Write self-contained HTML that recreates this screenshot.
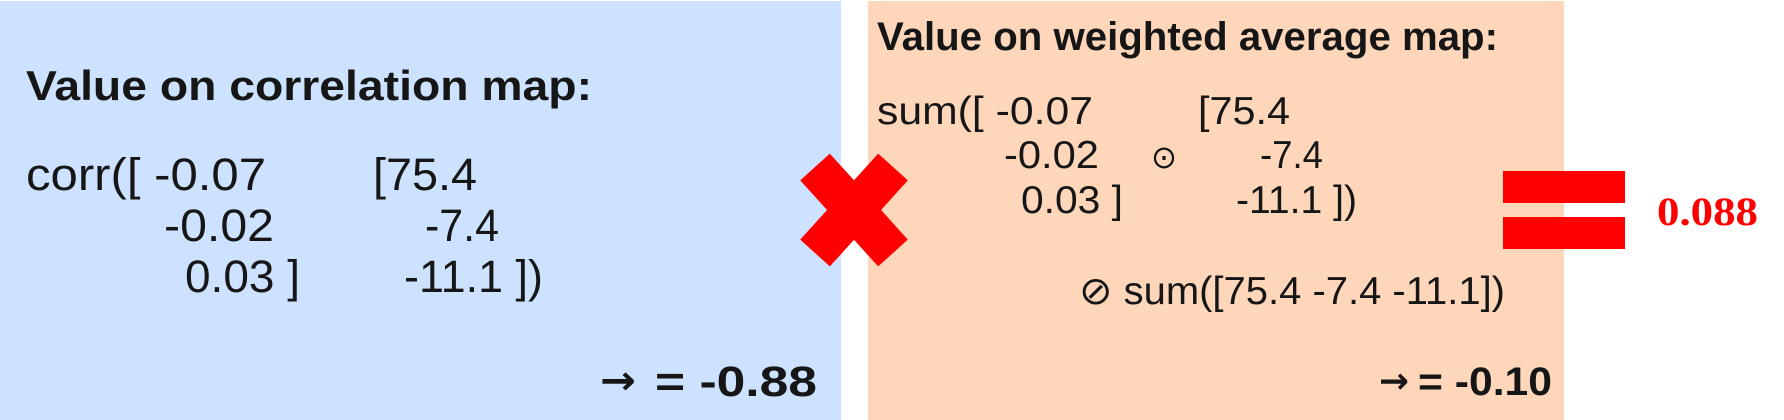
<!DOCTYPE html>
<html><head><meta charset="utf-8"><style>
html,body{margin:0;padding:0;background:#fff;}
svg{display:block;}
text{font-family:"Liberation Sans",sans-serif;fill:#161616;}
.b{font-weight:bold;}
.ar{font-family:"DejaVu Sans",sans-serif;font-weight:bold;}
</style></head><body>
<svg width="1784" height="420" viewBox="0 0 1784 420">
<rect x="0" y="1" width="841" height="419" fill="#cce2fe"/>
<rect x="868" y="1" width="696" height="419" fill="#fed7bb"/>
<g>
<text class="b" x="26" y="100" font-size="42" textLength="566" lengthAdjust="spacingAndGlyphs">Value on correlation map:</text>
<text x="26" y="190" font-size="45" textLength="240" lengthAdjust="spacingAndGlyphs">corr([ -0.07</text>
<text x="373" y="190" font-size="45" textLength="104" lengthAdjust="spacingAndGlyphs">[75.4</text>
<text x="164" y="241" font-size="45" textLength="110" lengthAdjust="spacingAndGlyphs">-0.02</text>
<text x="425" y="241" font-size="45" textLength="74" lengthAdjust="spacingAndGlyphs">-7.4</text>
<text x="185" y="292" font-size="45" textLength="115" lengthAdjust="spacingAndGlyphs">0.03 ]</text>
<text x="404" y="292" font-size="45" textLength="139" lengthAdjust="spacingAndGlyphs">-11.1 ])</text>
<text class="ar" x="600" y="394" font-size="40" textLength="36" lengthAdjust="spacingAndGlyphs">→</text>
<text class="b" x="655" y="396" font-size="43" textLength="162" lengthAdjust="spacingAndGlyphs">= -0.88</text>
</g>
<g>
<text class="b" x="877" y="50" font-size="40" textLength="621" lengthAdjust="spacingAndGlyphs">Value on weighted average map:</text>
<text x="877" y="124" font-size="39" textLength="216" lengthAdjust="spacingAndGlyphs">sum([ -0.07</text>
<text x="1198" y="124" font-size="39" textLength="92" lengthAdjust="spacingAndGlyphs">[75.4</text>
<text x="1004" y="168" font-size="39" textLength="95" lengthAdjust="spacingAndGlyphs">-0.02</text>
<text x="1151" y="168" font-size="32" textLength="26" lengthAdjust="spacingAndGlyphs">⊙</text>
<text x="1260" y="168" font-size="39" textLength="63" lengthAdjust="spacingAndGlyphs">-7.4</text>
<text x="1021" y="213" font-size="39" textLength="102" lengthAdjust="spacingAndGlyphs">0.03 ]</text>
<text x="1236" y="213" font-size="39" textLength="121" lengthAdjust="spacingAndGlyphs">-11.1 ])</text>
<text x="1079" y="304" font-size="39" textLength="426" lengthAdjust="spacingAndGlyphs">⊘ sum([75.4 -7.4 -11.1])</text>
<text class="ar" x="1379" y="393" font-size="36" textLength="30" lengthAdjust="spacingAndGlyphs">→</text>
<text class="b" x="1418" y="395" font-size="40" textLength="134" lengthAdjust="spacingAndGlyphs">= -0.10</text>
</g>
<g>
<line x1="815" y1="167" x2="893" y2="253" stroke="#ff0000" stroke-width="40"/>
<line x1="893" y1="167" x2="815" y2="253" stroke="#ff0000" stroke-width="40"/>
</g>
<g>
<rect x="1503" y="171" width="122" height="32" fill="#ff0000"/>
<rect x="1503" y="217" width="122" height="32" fill="#ff0000"/>
</g>
<text x="1657" y="225" font-size="40" font-weight="bold" textLength="101" lengthAdjust="spacingAndGlyphs" style="font-family:'Liberation Serif',serif;fill:#ff0000">0.088</text>
</svg>
</body></html>
